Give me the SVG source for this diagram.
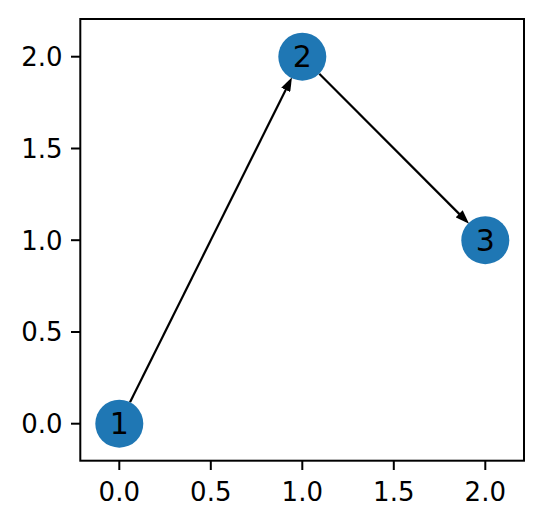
<svg xmlns="http://www.w3.org/2000/svg" width="542" height="526" viewBox="0 0 542 526">
<style>
.tick{stroke:#000;stroke-width:2}
.tl{font-family:"DejaVu Sans",sans-serif;font-size:26px;fill:#000}
.node circle{fill:#1f77b4}
.node text{font-family:"DejaVu Sans",sans-serif;font-size:30px;fill:#000;text-anchor:middle;dominant-baseline:central}
.edge{stroke:#000;stroke-width:2.2;fill:none}
</style>
<defs>
<marker id="arr" markerUnits="userSpaceOnUse" markerWidth="14" markerHeight="10" refX="6" refY="5" orient="auto">
<path d="M0,0 L14,5 L0,10 z" fill="#000"/>
</marker>
</defs>
<rect width="542" height="526" fill="#fff"/>
<g id="axes">
<rect x="80.3" y="19" width="443.7" height="441.7" fill="none" stroke="#000" stroke-width="2"/>
<g class="tick">
<line x1="119.3" y1="460.7" x2="119.3" y2="470"/>
<line x1="210.8" y1="460.7" x2="210.8" y2="470"/>
<line x1="302.3" y1="460.7" x2="302.3" y2="470"/>
<line x1="393.8" y1="460.7" x2="393.8" y2="470"/>
<line x1="485.3" y1="460.7" x2="485.3" y2="470"/>
<line x1="71" y1="423.7" x2="80.3" y2="423.7"/>
<line x1="71" y1="332" x2="80.3" y2="332"/>
<line x1="71" y1="240.2" x2="80.3" y2="240.2"/>
<line x1="71" y1="148.5" x2="80.3" y2="148.5"/>
<line x1="71" y1="56.7" x2="80.3" y2="56.7"/>
</g>
<g class="tl" text-anchor="middle">
<text x="119.3" y="500.5">0.0</text>
<text x="210.8" y="500.5">0.5</text>
<text x="302.3" y="500.5">1.0</text>
<text x="393.8" y="500.5">1.5</text>
<text x="485.3" y="500.5">2.0</text>
</g>
<g class="tl" text-anchor="end">
<text x="62.5" y="433">0.0</text>
<text x="62.5" y="341.3">0.5</text>
<text x="62.5" y="249.5">1.0</text>
<text x="62.5" y="157.8">1.5</text>
<text x="62.5" y="66">2.0</text>
</g>
</g>
<g id="edges">
<line class="edge" x1="130" y1="402.2" x2="288.4" y2="84.5" marker-end="url(#arr)"/>
<line class="edge" x1="319.3" y1="73.7" x2="463.4" y2="218.1" marker-end="url(#arr)"/>
</g>
<g id="node1" class="node"><circle cx="119.3" cy="423.7" r="24"/><text x="119.3" y="423.7">1</text></g>
<g id="node2" class="node"><circle cx="302.3" cy="56.7" r="24"/><text x="302.3" y="56.7">2</text></g>
<g id="node3" class="node"><circle cx="485.3" cy="240.2" r="24"/><text x="485.3" y="240.2">3</text></g>
</svg>
